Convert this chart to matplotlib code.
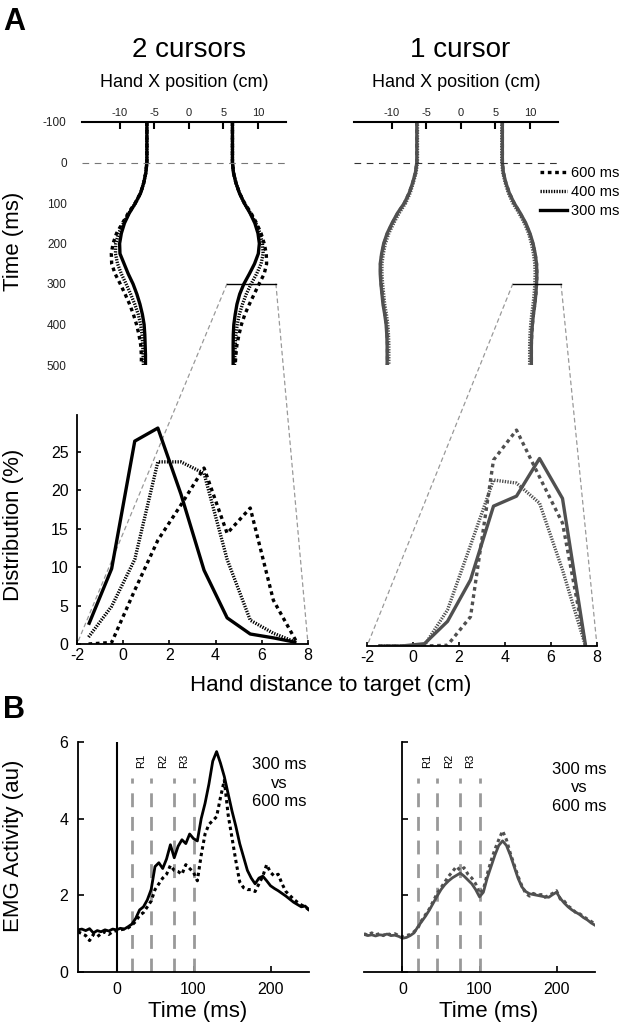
import numpy as np
import matplotlib
matplotlib.use('Agg')
import matplotlib.pyplot as plt
from matplotlib.patches import ConnectionPatch
from matplotlib.lines import Line2D

plt.rcParams['font.family'] = ['Liberation Sans', 'DejaVu Sans']
plt.rcParams['axes.unicode_minus'] = False

# ---------------- data ----------------
conditions = ['600 ms', '400 ms', '300 ms']

traj_time = [-100, -75, -50, -25, 0, 25, 50, 75, 100, 125, 150, 175, 200, 225,
             250, 275, 300, 325, 350, 375, 400, 425, 450, 475, 500]

# 2 cursors: hand X position (cm)
two_left_300 = [-6.1, -6.1, -6.1, -6.1, -6.1, -6.25, -6.55, -7.0, -7.75, -8.65, -9.35, -9.8, -10.05,
                -10.0, -9.4, -8.8, -8.1, -7.55, -7.1, -6.75, -6.5, -6.4, -6.35, -6.3, -6.3]
two_left_400 = [-6.1, -6.1, -6.1, -6.1, -6.1, -6.25, -6.55, -7.0, -7.75, -8.7, -9.5, -10.2, -10.6,
                -10.65, -10.35, -9.8, -9.1, -8.45, -7.85, -7.35, -7.0, -6.8, -6.7, -6.65, -6.6]
two_left_600 = [-6.1, -6.1, -6.1, -6.1, -6.1, -6.25, -6.55, -7.0, -7.8, -8.8, -9.65, -10.5, -11.0,
                -11.25, -11.2, -10.7, -9.95, -9.25, -8.6, -8.05, -7.6, -7.25, -7.0, -6.9, -6.9]
two_right_300 = [6.3, 6.3, 6.3, 6.3, 6.3, 6.45, 6.8, 7.3, 8.0, 8.85, 9.55, 10.0, 10.2,
                 10.05, 9.5, 8.75, 7.95, 7.35, 6.95, 6.7, 6.5, 6.42, 6.4, 6.4, 6.4]
two_right_400 = [6.3, 6.3, 6.3, 6.3, 6.3, 6.45, 6.8, 7.3, 8.0, 8.9, 9.7, 10.3, 10.65,
                 10.75, 10.45, 9.8, 9.0, 8.3, 7.75, 7.3, 7.0, 6.8, 6.7, 6.65, 6.6]
two_right_600 = [6.3, 6.3, 6.3, 6.3, 6.3, 6.45, 6.8, 7.3, 8.05, 9.0, 9.8, 10.45, 10.9,
                 11.2, 11.25, 10.9, 10.15, 9.45, 8.75, 8.1, 7.6, 7.25, 6.95, 6.8, 6.7]

# 1 cursor
one_left_300 = [-6.4, -6.4, -6.4, -6.4, -6.4, -6.6, -7.0, -7.5, -8.2, -9.2, -10.0, -10.7, -11.2,
                -11.5, -11.7, -11.7, -11.6, -11.45, -11.3, -11.05, -10.85, -10.75, -10.7, -10.7, -10.7]
one_left_400 = [-6.3, -6.3, -6.3, -6.3, -6.3, -6.5, -6.9, -7.35, -8.0, -8.95, -9.75, -10.45, -10.95,
                -11.25, -11.45, -11.45, -11.35, -11.2, -11.05, -10.8, -10.6, -10.5, -10.45, -10.45, -10.45]
one_left_600 = [-6.4, -6.4, -6.4, -6.4, -6.4, -6.6, -7.0, -7.5, -8.2, -9.15, -9.95, -10.65, -11.15,
                -11.45, -11.65, -11.65, -11.55, -11.4, -11.25, -11.0, -10.8, -10.7, -10.65, -10.65, -10.65]
one_right_300 = [6.0, 6.0, 6.0, 6.0, 6.0, 6.15, 6.5, 7.0, 7.7, 8.6, 9.4, 10.0, 10.45,
                 10.75, 10.95, 11.0, 10.95, 10.85, 10.7, 10.5, 10.35, 10.25, 10.2, 10.2, 10.2]
one_right_400 = [5.9, 5.9, 5.9, 5.9, 5.9, 6.05, 6.4, 6.85, 7.5, 8.4, 9.2, 9.8, 10.2,
                 10.5, 10.7, 10.75, 10.7, 10.6, 10.45, 10.25, 10.1, 10.0, 9.95, 9.95, 9.95]
one_right_600 = [6.0, 6.0, 6.0, 6.0, 6.0, 6.15, 6.5, 7.0, 7.7, 8.55, 9.35, 9.95, 10.4,
                 10.75, 10.95, 11.0, 10.95, 10.85, 10.7, 10.5, 10.35, 10.25, 10.2, 10.2, 10.2]

# zoom window at t = 300 ms (cm)
zoom_two = [5.5, 12.6]
zoom_one = [7.5, 14.5]

# Distribution of hand distance to target
dist_bins = [-1.5, -0.5, 0.5, 1.5, 2.5, 3.5, 4.5, 5.5, 6.5, 7.5]
two_dist_300 = [2.5, 9.8, 26.4, 28.1, 19.5, 9.6, 3.4, 1.3, 0.8, 0.2]
two_dist_400 = [0.9, 4.9, 11.0, 23.7, 23.7, 22.2, 11.0, 3.1, 1.4, 0.2]
two_dist_600 = [0.0, 0.2, 7.0, 13.5, 18.1, 22.9, 14.4, 17.7, 5.7, 0.3]
one_dist_300 = [0.0, 0.0, 0.3, 3.2, 8.6, 18.2, 19.5, 24.4, 19.2, 0.1]
one_dist_400 = [0.0, 0.0, 0.1, 4.7, 13.1, 21.6, 21.2, 18.6, 9.9, 0.0]
one_dist_600 = [0.0, 0.0, 0.0, 0.1, 3.8, 24.2, 28.1, 22.0, 16.0, 0.0]

# EMG activity
emg_time = np.arange(-50, 251, 5)
emg_two_300 = [1.10, 1.12, 1.08, 1.13, 1.02, 1.08, 1.05, 1.10, 1.07, 1.12,
               1.10, 1.14, 1.12, 1.18, 1.25, 1.40, 1.62, 1.70, 1.88, 2.15,
               2.75, 2.85, 2.70, 2.95, 3.32, 2.98, 3.28, 3.45, 3.35, 3.60,
               3.48, 3.42, 4.00, 4.40, 4.90, 5.50, 5.75, 5.45, 5.10, 4.65,
               4.20, 3.80, 3.35, 3.00, 2.65, 2.45, 2.30, 2.45, 2.50, 2.38,
               2.25, 2.18, 2.12, 2.05, 1.98, 1.90, 1.82, 1.76, 1.70, 1.72, 1.62]
emg_two_600 = [1.05, 1.00, 0.95, 0.82, 0.98, 0.92, 1.00, 1.05, 0.98, 1.05,
               1.08, 1.10, 1.12, 1.15, 1.22, 1.32, 1.48, 1.55, 1.70, 1.85,
               2.15, 2.30, 2.45, 2.55, 2.78, 2.65, 2.62, 2.55, 2.80, 2.70,
               2.60, 2.38, 3.05, 3.60, 3.85, 3.95, 4.05, 4.55, 5.00, 4.10,
               3.50, 2.90, 2.35, 2.20, 2.15, 2.15, 2.10, 2.30, 2.50, 2.80,
               2.60, 2.50, 2.55, 2.30, 2.10, 2.00, 1.90, 1.82, 1.75, 1.70, 1.62]
emg_one_300 = [0.98, 0.95, 0.97, 0.94, 0.97, 0.96, 0.99, 0.95, 0.96, 0.93,
               0.88, 0.90, 0.95, 1.02, 1.18, 1.32, 1.46, 1.62, 1.80, 1.98,
               2.15, 2.28, 2.38, 2.46, 2.52, 2.58, 2.50, 2.40, 2.30, 2.15,
               1.96, 2.08, 2.45, 2.75, 3.05, 3.30, 3.42, 3.30, 3.05, 2.75,
               2.45, 2.22, 2.10, 2.04, 2.02, 2.00, 1.98, 1.96, 1.95, 2.02,
               2.08, 1.92, 1.80, 1.70, 1.62, 1.56, 1.50, 1.42, 1.36, 1.28, 1.22]
emg_one_600 = [1.00, 0.96, 1.02, 0.97, 1.00, 0.95, 1.01, 0.97, 1.00, 0.95,
               0.92, 0.95, 0.98, 1.05, 1.15, 1.35, 1.50, 1.65, 1.85, 2.05,
               2.20, 2.35, 2.50, 2.62, 2.75, 2.65, 2.72, 2.55, 2.45, 2.30,
               2.05, 2.15, 2.55, 2.90, 3.20, 3.45, 3.68, 3.45, 3.10, 2.80,
               2.50, 2.25, 2.05, 1.98, 2.05, 2.00, 2.02, 1.95, 2.00, 2.05,
               2.12, 1.90, 1.85, 1.72, 1.65, 1.55, 1.52, 1.45, 1.38, 1.32, 1.25]

epoch_lines = [20, 45, 75, 100]
epoch_labels = ['R1', 'R2', 'R3']
epoch_label_x = [32.5, 60, 87.5]

# ---------------- styling ----------------
W, H = 630, 1030
fig = plt.figure(figsize=(W / 100, H / 100), dpi=100)


def rect(x0, y0, x1, y1):
    return [x0 / W, 1 - y1 / H, (x1 - x0) / W, (y1 - y0) / H]


def fx(px):
    return px / W


def fy(py):
    return 1 - py / H


BLACK = 'black'
GRAY = '#505050'
LS = {'600 ms': (0, (1.1, 1.1)), '400 ms': (0, (0.4, 0.4)), '300 ms': '-'}

# ---- top trajectory panels ----
ax_t2 = fig.add_axes(rect(82, 122, 286, 365))
ax_t1 = fig.add_axes(rect(354, 122, 558, 365))
for ax, color, series, zw, zcol in [
        (ax_t2, BLACK, [(two_left_600, two_right_600, '600 ms'),
                        (two_left_400, two_right_400, '400 ms'),
                        (two_left_300, two_right_300, '300 ms')], zoom_two, '#777777'),
        (ax_t1, GRAY, [(one_left_600, one_right_600, '600 ms'),
                       (one_left_400, one_right_400, '400 ms'),
                       (one_left_300, one_right_300, '300 ms')], zoom_one, '#333333')]:
    ax.patch.set_visible(False)
    for left, right, lab in series:
        ax.plot(left, traj_time, color=color, lw=2.4, ls=LS[lab], solid_capstyle='butt')
        ax.plot(right, traj_time, color=color, lw=2.4, ls=LS[lab], solid_capstyle='butt')
    ax.axhline(0, color=zcol, lw=0.8, ls=(0, (6, 5)))
    ax.plot(zw, [300, 300], color='black', lw=1.0, clip_on=False)
    ax.set_xlim(-15.5, 14.06)
    ax.set_ylim(500, -100)
    for s in ['left', 'right', 'bottom']:
        ax.spines[s].set_visible(False)
    ax.spines['top'].set_linewidth(1.5)
    ax.xaxis.tick_top()
    ax.set_xticks([-10, -5, 0, 5, 10])
    ax.tick_params(axis='x', direction='in', length=5, width=1.5, pad=3,
                   labelsize=8, labelcolor='#222222')
    ax.set_yticks([-100, 0, 100, 200, 300, 400, 500])
    ax.tick_params(axis='y', length=0, pad=11, labelsize=8.5, labelcolor='#222222')
ax_t1.tick_params(axis='y', labelleft=False)

handles = [Line2D([], [], color='black', lw=2.4, ls=LS[c]) for c in conditions]
ax_t1.legend(handles, conditions, loc='upper left', bbox_to_anchor=(fx(540), fy(166)),
             bbox_transform=fig.transFigure, frameon=False, fontsize=10.5,
             handlelength=1.85, handletextpad=0.3, labelspacing=0.35,
             borderpad=0, borderaxespad=0)

# ---- distribution panels ----
ax_d2 = fig.add_axes(rect(77, 415, 308, 644))
ax_d1 = fig.add_axes(rect(367, 417, 597, 646))
for ax, color, series in [
        (ax_d2, BLACK, [(two_dist_600, '600 ms'), (two_dist_400, '400 ms'), (two_dist_300, '300 ms')]),
        (ax_d1, GRAY, [(one_dist_600, '600 ms'), (one_dist_400, '400 ms'), (one_dist_300, '300 ms')])]:
    ax.patch.set_visible(False)
    for vals, lab in series:
        ax.plot(dist_bins, vals, color=color, lw=2.4, ls=LS[lab], solid_capstyle='butt')
    ax.set_xlim(-2, 8)
    ax.set_ylim(0, 29.8)
    ax.spines['top'].set_visible(False)
    ax.spines['right'].set_visible(False)
    ax.spines['left'].set_linewidth(1.3)
    ax.spines['bottom'].set_linewidth(1.3)
    ax.set_xticks([-2, 0, 2, 4, 6, 8])
    ax.tick_params(axis='x', direction='in', length=3, width=1.2, pad=3, labelsize=11.5)
    ax.set_yticks([0, 5, 10, 15, 20, 25])
    ax.tick_params(axis='y', direction='in', length=3, width=1.2, pad=6, labelsize=11.5)
ax_d1.spines['left'].set_visible(False)
ax_d1.tick_params(axis='y', left=False, labelleft=False)

# connection (zoom) lines
for ax_top, ax_dist, zw in [(ax_t2, ax_d2, zoom_two), (ax_t1, ax_d1, zoom_one)]:
    for xa, xb in [(zw[0], -2), (zw[1], 8)]:
        con = ConnectionPatch(xyA=(xa, 300), coordsA=ax_top.transData,
                              xyB=(xb, 0), coordsB=ax_dist.transData,
                              color='#999999', lw=0.9, ls=(0, (3, 3)))
        con.set_zorder(-1)
        fig.add_artist(con)

# ---- EMG panels ----
ax_e2 = fig.add_axes(rect(78, 742, 309, 972))
ax_e1 = fig.add_axes(rect(364, 742, 595, 972))
for ax, color, s300, s600, txy in [(ax_e2, BLACK, emg_two_300, emg_two_600, (0.87, 0.82)),
                                   (ax_e1, GRAY, emg_one_300, emg_one_600, (0.93, 0.80))]:
    ax.patch.set_visible(False)
    for xv in epoch_lines:
        ax.plot([xv, xv], [0, 5.05], color='#999999', lw=2.0, ls=(0, (5, 3.5)))
    for xv, lab in zip(epoch_label_x, epoch_labels):
        ax.text(xv, 5.5, lab, rotation=90, ha='center', va='center', fontsize=8)
    ax.plot(emg_time, s600, color=color, lw=2.2, ls=LS['600 ms'])
    ax.plot(emg_time, s300, color=color, lw=2.0)
    ax.set_xlim(-50, 250)
    ax.set_ylim(0, 6)
    ax.spines['top'].set_visible(False)
    ax.spines['right'].set_visible(False)
    ax.spines['left'].set_linewidth(1.3)
    ax.spines['bottom'].set_linewidth(1.3)
    ax.set_xticks([0, 100, 200])
    ax.tick_params(axis='x', direction='in', length=4, width=1.2, pad=7, labelsize=11.5)
    ax.set_yticks([0, 2, 4, 6])
    ax.tick_params(axis='y', direction='in', length=4, width=1.2, pad=7, labelsize=11.5)
    ax.text(txy[0], txy[1], '300 ms\nvs\n600 ms', transform=ax.transAxes, ha='center',
            va='center', fontsize=12, linespacing=1.3)
ax_e2.axvline(0, color='black', lw=1.5)
ax_e1.spines['left'].set_position(('data', 0))
ax_e1.tick_params(axis='y', labelleft=False)

# ---- figure texts ----
fig.text(fx(3), fy(30), 'A', fontsize=22, fontweight='bold', ha='left', va='baseline')
fig.text(fx(3), fy(718), 'B', fontsize=22, fontweight='bold', ha='left', va='baseline')
fig.text(fx(189), fy(57), '2 cursors', fontsize=20, ha='center', va='baseline')
fig.text(fx(460), fy(57), '1 cursor', fontsize=20, ha='center', va='baseline')
fig.text(fx(184), fy(87), 'Hand X position (cm)', fontsize=13, ha='center', va='baseline')
fig.text(fx(456), fy(87), 'Hand X position (cm)', fontsize=13, ha='center', va='baseline')
fig.text(fx(14), fy(241), 'Time (ms)', fontsize=16, rotation=90, ha='center', va='center')
fig.text(fx(14), fy(525), 'Distribution (%)', fontsize=16, rotation=90, ha='center', va='center')
fig.text(fx(331), fy(686), 'Hand distance to target (cm)', fontsize=16, ha='center', va='center')
fig.text(fx(14), fy(846), 'EMG Activity (au)', fontsize=16, rotation=90, ha='center', va='center')
fig.text(fx(198), fy(1012), 'Time (ms)', fontsize=16, ha='center', va='center')
fig.text(fx(489), fy(1012), 'Time (ms)', fontsize=16, ha='center', va='center')

fig.savefig('out.png', dpi=100)
